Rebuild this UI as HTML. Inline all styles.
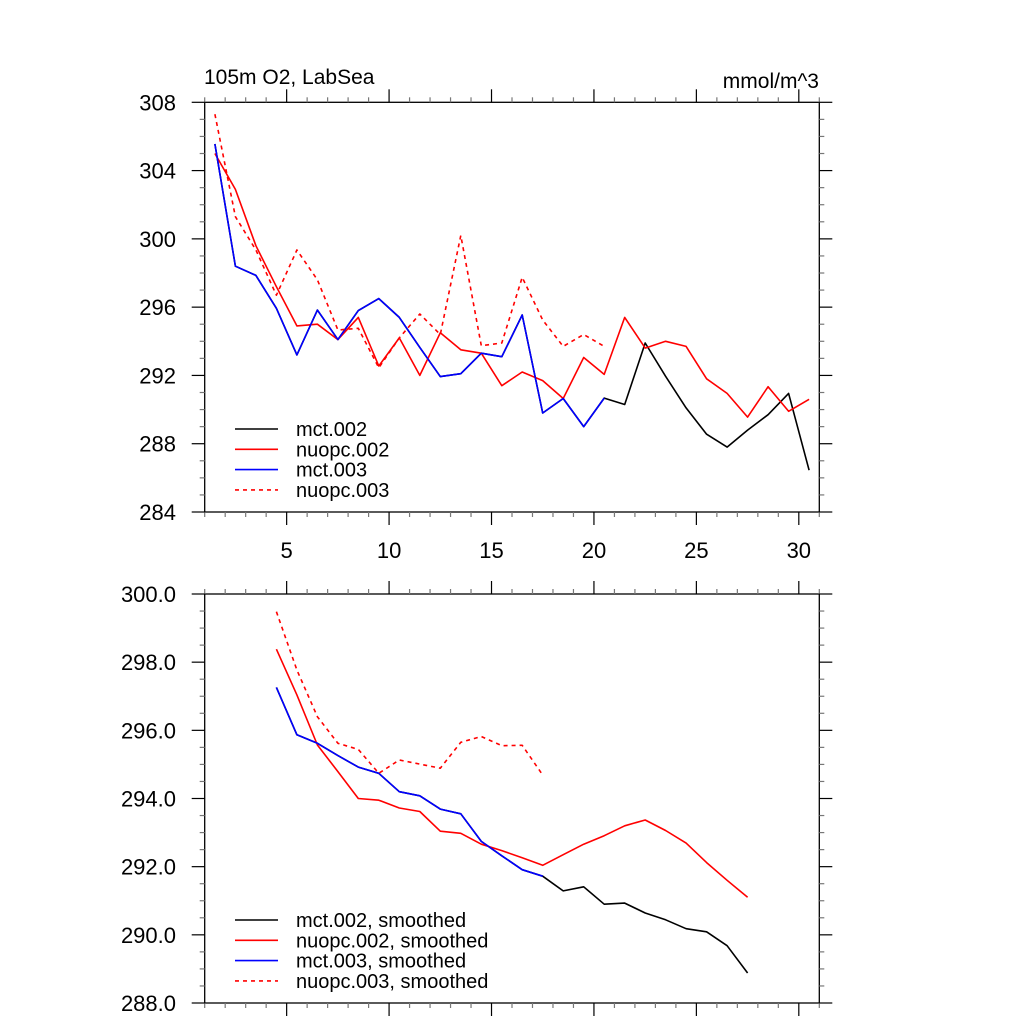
<!DOCTYPE html>
<html><head><meta charset="utf-8"><style>
body{margin:0;background:#fff}
svg{display:block}
text{font-family:"Liberation Sans",sans-serif;fill:#000}
</style></head><body>
<svg id="chart" width="1024" height="1024" viewBox="0 0 1024 1024"></svg>
<script>
// ---- data ----
const xTop = [1.5,2.5,3.5,4.5,5.5,6.5,7.5,8.5,9.5,10.5,11.5,12.5,13.5,14.5,15.5,16.5,17.5,18.5,19.5,20.5,21.5,22.5,23.5,24.5,25.5,26.5,27.5,28.5,29.5,30.5];
const mct002 = [305.56,298.4,297.86,295.93,293.2,295.83,294.1,295.8,296.5,295.4,293.64,291.93,292.1,293.3,293.1,295.54,289.8,290.65,289.0,290.67,290.3,293.9,291.95,290.1,288.56,287.8,288.8,289.7,290.95,286.45];
const nuopc002 = [305.0,302.9,299.6,297.2,294.9,295.0,294.1,295.4,292.55,294.2,292.0,294.5,293.5,293.3,291.4,292.2,291.7,290.65,293.05,292.06,295.4,293.6,294.0,293.7,291.8,290.95,289.56,291.34,289.9,290.6];
const mct003 = [305.56,298.4,297.86,295.93,293.2,295.83,294.1,295.8,296.5,295.4,293.64,291.93,292.1,293.3,293.1,295.54,289.8,290.65,289.0,290.67];
const nuopc003 = [307.3,301.3,299.35,296.7,299.35,297.6,294.66,294.76,292.45,294.2,295.6,294.4,300.2,293.74,293.9,297.75,295.25,293.7,294.4,293.7];
const xBot = [4.5,5.5,6.5,7.5,8.5,9.5,10.5,11.5,12.5,13.5,14.5,15.5,16.5,17.5,18.5,19.5,20.5,21.5,22.5,23.5,24.5,25.5,26.5,27.5];
const mct002s = [297.26,295.87,295.62,295.26,294.92,294.74,294.2,294.08,293.69,293.55,292.74,292.32,291.91,291.72,291.29,291.41,290.9,290.93,290.64,290.44,290.18,290.09,289.68,288.88];
const nuopc002s = [298.38,297.04,295.57,294.79,294.0,293.95,293.72,293.62,293.04,292.98,292.66,292.47,292.26,292.04,292.35,292.66,292.91,293.2,293.37,293.06,292.69,292.12,291.6,291.1];
const mct003s = [297.26,295.87,295.62,295.26,294.92,294.74,294.2,294.08,293.69,293.55,292.74,292.32,291.91,291.72];
const nuopc003s = [299.48,297.77,296.4,295.62,295.44,294.74,295.13,295.01,294.89,295.65,295.82,295.55,295.56,294.69];
const xTickLabels = ["5","10","15","20","25","30"];
const yTopLabels = ["284","288","292","296","300","304","308"];
const yBotLabels = ["288.0","290.0","292.0","294.0","296.0","298.0","300.0"];

const NS="http://www.w3.org/2000/svg";
const svg=document.getElementById('chart');
function mk(tag,attrs,parent){const e=document.createElementNS(NS,tag);for(const k in attrs)e.setAttribute(k,attrs[k]);(parent||svg).appendChild(e);return e;}

const L=204.7,R=819.3;
function sx(v){return L+(v-1)*(R-L)/30;}
function panel(name,ptop,bot,ymin,ymax,ymajor,yminor,ylabels,showX){
  const g=mk('g',{});
  
  
  const sy=v=>bot-(v-ymin)*(bot-ptop)/(ymax-ymin);
  const f=mk('rect',{x:L,y:ptop,width:R-L,height:bot-ptop,fill:'none',stroke:'#000','stroke-width':1.3},g);
  
  
  for(let v=1;v<=31;v++){
    const maj=v%5===0, len=maj?13:5, c=maj?'#000':'#777';
    const x=sx(v);
    mk('line',{x1:x,x2:x,y1:bot,y2:bot+len,stroke:c,'stroke-width':1.2},g);
    mk('line',{x1:x,x2:x,y1:ptop,y2:ptop-len,stroke:c,'stroke-width':1.2},g);
  }
  const n=Math.round((ymax-ymin)/yminor);
  const per=Math.round(ymajor/yminor);
  for(let k=0;k<=n;k++){
    const v=ymin+k*yminor;
    const maj=k%per===0, len=maj?13:5, c=maj?'#000':'#777';
    const y=sy(v);
    mk('line',{x1:L,x2:L-len,y1:y,y2:y,stroke:c,'stroke-width':1.2},g);
    mk('line',{x1:R,x2:R+len,y1:y,y2:y,stroke:c,'stroke-width':1.2},g);
  }
  ylabels.forEach((t,i)=>{
    const e=mk('text',{x:176,y:sy(ymin+i*ymajor)+8,'text-anchor':'end','font-size':22},g);
    e.textContent=t;
    
    
  });
  if(showX){
    xTickLabels.forEach((t,i)=>{
      const e=mk('text',{x:sx(5*(i+1)),y:bot+46,'text-anchor':'middle','font-size':22},g);
      e.textContent=t;
      
      
    });
  }
  return {g:g,sy:sy};
}
function series(p,xs,ys,color,dash,name){
  const d=ys.map((v,i)=>(i?'L':'M')+sx(xs[i]).toFixed(1)+','+p.sy(v).toFixed(1)).join(' ');
  const e=mk('path',{d:d,fill:'none',stroke:color,'stroke-width':1.6,'stroke-dasharray':dash?'4,4':'none','stroke-linejoin':'round'},p.g);
  
  
}
function legend(p,y0,items){
  items.forEach((it,i)=>{
    const y=y0+i*20.3;
    const ln=mk('line',{x1:235,x2:278,y1:y,y2:y,stroke:it[1],'stroke-width':1.6,'stroke-dasharray':it[2]?'4,4':'none'},p.g);
    
    
    const t=mk('text',{x:296,y:y+7,'font-size':20},p.g);
    t.textContent=it[0];
    
    
  });
}
const topP=panel('top-panel',102.3,512,284,308,4,1,yTopLabels,true);
series(topP,xTop,mct002,'#000',false,'line-mct002');
series(topP,xTop,nuopc002,'#f00',false,'line-nuopc002');
series(topP,xTop.slice(0,mct003.length),mct003,'#00f',false,'line-mct003');
series(topP,xTop.slice(0,nuopc003.length),nuopc003,'#f00',true,'line-nuopc003');
legend(topP,429,[['mct.002','#000',false],['nuopc.002','#f00',false],['mct.003','#00f',false],['nuopc.003','#f00',true]]);
const t1=mk('text',{x:204,y:84,'font-size':21});t1.textContent='105m O2, LabSea';


const t2=mk('text',{x:819,y:88,'font-size':21,'text-anchor':'end'});t2.textContent='mmol/m^3';



const botP=panel('bottom-panel',594,1003,288,300,2,0.5,yBotLabels,false);
series(botP,xBot,mct002s,'#000',false,'line-mct002-smoothed');
series(botP,xBot,nuopc002s,'#f00',false,'line-nuopc002-smoothed');
series(botP,xBot.slice(0,mct003s.length),mct003s,'#00f',false,'line-mct003-smoothed');
series(botP,xBot.slice(0,nuopc003s.length),nuopc003s,'#f00',true,'line-nuopc003-smoothed');
legend(botP,920,[['mct.002, smoothed','#000',false],['nuopc.002, smoothed','#f00',false],['mct.003, smoothed','#00f',false],['nuopc.003, smoothed','#f00',true]]);
</script>
</body></html>
